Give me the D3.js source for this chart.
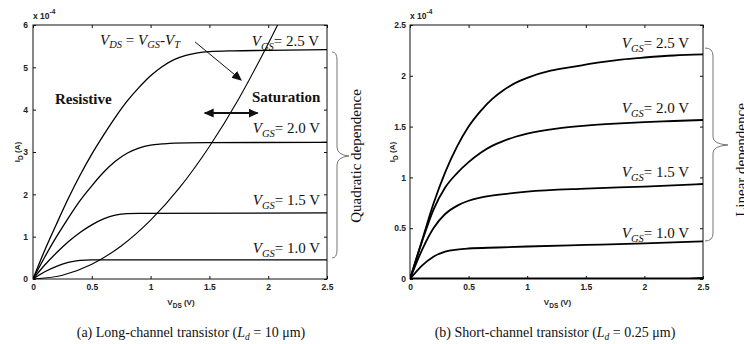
<!DOCTYPE html>
<html>
<head>
<meta charset="utf-8">
<script src="https://cdn.jsdelivr.net/npm/d3@7"></script>
<style>
  body { margin: 0; background: #fff; }
  svg { display: block; }
</style>
</head>
<body>
<svg id="chart" width="744" height="344"></svg>
<script>
// I_D values in units of 1e-4 A, V_DS in volts
const xTicks = [0, 0.5, 1, 1.5, 2, 2.5];
const xTickLabels = ["0", "0.5", "1", "1.5", "2", "2.5"];
const longYTicks = [0, 1, 2, 3, 4, 5, 6];
const shortYTicks = [0, 0.5, 1, 1.5, 2, 2.5];
const shortYTickLabels = ["0", "0.5", "1", "1.5", "2", "2.5"];
const vgsValues = ["2.5", "2.0", "1.5", "1.0"];

// (a) long-channel
const longVgs25 = [[0,0],[0.1,0.68],[0.2,1.3],[0.3,1.9],[0.4,2.45],[0.5,2.95],[0.6,3.4],[0.7,3.82],[0.8,4.2],[0.9,4.52],[1.0,4.8],[1.1,5.02],[1.2,5.18],[1.3,5.28],[1.4,5.34],[1.5,5.37],[1.7,5.39],[2.0,5.4],[2.5,5.42]];
const longVgs20 = [[0,0],[0.1,0.52],[0.2,1.0],[0.3,1.44],[0.4,1.85],[0.5,2.2],[0.6,2.52],[0.7,2.78],[0.8,2.97],[0.9,3.09],[1.0,3.16],[1.1,3.19],[1.2,3.21],[1.5,3.22],[2.5,3.23]];
const longVgs15 = [[0,0],[0.1,0.33],[0.2,0.62],[0.3,0.88],[0.4,1.1],[0.5,1.28],[0.6,1.42],[0.7,1.51],[0.8,1.545],[0.9,1.55],[2.5,1.56]];
const longVgs10 = [[0,0],[0.1,0.17],[0.2,0.3],[0.3,0.39],[0.4,0.44],[0.5,0.45],[2.5,0.45]];
const longSatBoundary = [[0,0],[0.25,0.09],[0.5,0.35],[0.75,0.78],[1.0,1.39],[1.25,2.17],[1.5,3.13],[1.75,4.26],[2.0,5.56],[2.08,6.0]];

// (b) short-channel
const shortVgs25 = [[0,0],[0.1,0.37],[0.2,0.74],[0.3,1.05],[0.4,1.3],[0.5,1.5],[0.6,1.65],[0.7,1.77],[0.8,1.86],[0.9,1.93],[1.0,1.98],[1.2,2.05],[1.4,2.09],[1.6,2.13],[1.8,2.16],[2.0,2.18],[2.25,2.2],[2.5,2.21]];
const shortVgs20 = [[0,0],[0.1,0.36],[0.2,0.68],[0.3,0.9],[0.4,1.04],[0.5,1.15],[0.6,1.24],[0.7,1.31],[0.8,1.36],[0.9,1.4],[1.0,1.43],[1.25,1.48],[1.5,1.51],[1.75,1.53],[2.0,1.545],[2.25,1.555],[2.5,1.565]];
const shortVgs15 = [[0,0],[0.1,0.28],[0.2,0.5],[0.3,0.64],[0.4,0.72],[0.5,0.77],[0.6,0.8],[0.8,0.835],[1.0,0.86],[1.5,0.89],[2.0,0.91],[2.5,0.935]];
const shortVgs10 = [[0,0],[0.1,0.13],[0.2,0.22],[0.3,0.27],[0.4,0.29],[0.5,0.3],[0.75,0.31],[1.0,0.32],[1.5,0.335],[2.0,0.35],[2.5,0.37]];
const shortVgs05 = [[0,0],[2.3,0],[2.5,0.006]];

const SERIF = "'Liberation Serif', 'Times New Roman', serif";
const SANS = "'Liberation Sans', Arial, sans-serif";
const INK = "#111";

const svg = d3.select("#chart");

const defs = svg.append("defs");
defs.append("marker")
  .attr("id", "head")
  .attr("viewBox", "0 0 10 10")
  .attr("refX", 9).attr("refY", 5)
  .attr("markerWidth", 10).attr("markerHeight", 10)
  .attr("markerUnits", "userSpaceOnUse")
  .attr("orient", "auto-start-reverse")
  .append("path").attr("d", "M0,0.5 L10,5 L0,9.5 Z").attr("fill", INK);

function drawPanel(cfg) {
  const x = d3.scaleLinear().domain([0, 2.5]).range([cfg.left, cfg.right]);
  const y = d3.scaleLinear().domain([0, cfg.ymax]).range([cfg.bottom, cfg.top]);
  const g = svg.append("g");

  g.append("clipPath").attr("id", cfg.id + "-clip")
    .append("rect")
    .attr("x", cfg.left).attr("y", cfg.top)
    .attr("width", cfg.right - cfg.left).attr("height", cfg.bottom - cfg.top);

  // axes, ticks pointing inward on all four sides
  const styleAxis = (sel) => {
    sel.select(".domain").remove();
    sel.selectAll(".tick line").attr("stroke", INK);
    sel.selectAll(".tick text")
      .attr("font-family", SANS).attr("font-size", 8.5).attr("font-weight", "bold").attr("fill", "#222");
  };

  g.append("g").attr("transform", `translate(0,${cfg.bottom})`)
    .call(d3.axisBottom(x).tickValues(xTicks).tickFormat((d, i) => xTickLabels[i])
      .tickSizeInner(-3).tickSizeOuter(0).tickPadding(5))
    .call(styleAxis);
  g.append("g").attr("transform", `translate(0,${cfg.top})`)
    .call(d3.axisTop(x).tickValues(xTicks).tickFormat("").tickSizeInner(-3).tickSizeOuter(0))
    .call(styleAxis);
  g.append("g").attr("transform", `translate(${cfg.left},0)`)
    .call(d3.axisLeft(y).tickValues(cfg.yTicks).tickFormat((d, i) => cfg.yTickLabels[i])
      .tickSizeInner(-3).tickSizeOuter(0).tickPadding(cfg.yPad))
    .call(styleAxis);
  g.append("g").attr("transform", `translate(${cfg.right},0)`)
    .call(d3.axisRight(y).tickValues(cfg.yTicks).tickFormat("").tickSizeInner(-3).tickSizeOuter(0))
    .call(styleAxis);

  g.append("rect")
    .attr("x", cfg.left).attr("y", cfg.top)
    .attr("width", cfg.right - cfg.left).attr("height", cfg.bottom - cfg.top)
    .attr("fill", "none").attr("stroke", INK).attr("stroke-width", 1);

  // curves
  const line = d3.line().x(d => x(d[0])).y(d => y(d[1])).curve(d3.curveMonotoneX);
  g.append("g").attr("clip-path", `url(#${cfg.id}-clip)`)
    .selectAll("path")
    .data(cfg.series)
    .enter()
    .append("path")
    .attr("d", d => line(d.values))
    .attr("fill", "none")
    .attr("stroke", "#000")
    .attr("stroke-width", d => d.width || cfg.strokeWidth);

  // exponent
  const exp = g.append("text")
    .attr("x", cfg.left).attr("y", cfg.top - 6)
    .attr("font-family", SANS).attr("font-size", 8.5).attr("font-weight", "bold").attr("fill", "#222");
  exp.append("tspan").text("x 10");
  exp.append("tspan").attr("dy", -5).attr("font-size", 6.5).text("-4");

  // axis titles
  const xt = g.append("text")
    .attr("x", (cfg.left + cfg.right) / 2 + 1).attr("y", 305)
    .attr("text-anchor", "middle")
    .attr("font-family", SANS).attr("font-size", 8).attr("font-weight", "bold").attr("fill", "#222");
  xt.append("tspan").text("V");
  xt.append("tspan").attr("dy", 2.5).attr("font-size", 6.5).text("DS");
  xt.append("tspan").attr("dy", -2.5).text(" (V)");

  const yt = g.append("text")
    .attr("transform", `translate(${cfg.yTitleX},${(cfg.top + cfg.bottom) / 2}) rotate(-90)`)
    .attr("text-anchor", "middle")
    .attr("font-family", SANS).attr("font-size", 8).attr("font-weight", "bold").attr("fill", "#222");
  yt.append("tspan").text("I");
  yt.append("tspan").attr("dy", 2.5).attr("font-size", 6.5).text("D");
  yt.append("tspan").attr("dy", -2.5).text(" (A)");

  // V_GS labels
  cfg.labels.forEach((lab) => {
    const t = g.append("text")
      .attr("x", lab.x).attr("y", lab.y)
      .attr("text-anchor", "end")
      .attr("font-family", SERIF).attr("font-size", 15).attr("fill", INK);
    t.append("tspan").attr("font-style", "italic").text("V");
    t.append("tspan").attr("font-style", "italic").attr("font-size", 10.5).attr("dy", 4).text("GS");
    t.append("tspan").attr("dy", -4).text("= " + lab.text + " V");
  });

  // caption
  const cap = g.append("text")
    .attr("x", cfg.captionX).attr("y", 337)
    .attr("text-anchor", "middle")
    .attr("font-family", SERIF).attr("font-size", 14).attr("fill", INK);
  cap.append("tspan").text(cfg.captionA);
  cap.append("tspan").attr("font-style", "italic").text("L");
  cap.append("tspan").attr("font-style", "italic").attr("font-size", 9.5).attr("dy", 3).text("d");
  cap.append("tspan").attr("dy", -3).text(cfg.captionB);

  // brace + rotated note
  g.append("path").attr("d", cfg.brace)
    .attr("fill", "none").attr("stroke", "#777").attr("stroke-width", 1);
  g.append("text")
    .attr("transform", `translate(${cfg.noteX},${cfg.noteY}) rotate(-90)`)
    .attr("text-anchor", "middle")
    .attr("font-family", SERIF).attr("font-size", 15).attr("fill", INK)
    .text(cfg.note);

  return { g, x, y };
}

const left = drawPanel({
  id: "long",
  left: 33, right: 327, top: 25, bottom: 279,
  ymax: 6, yTicks: longYTicks, yTickLabels: longYTicks.map(String), yPad: 5,
  yTitleX: 20,
  strokeWidth: 1.3,
  series: [
    { values: longVgs25 }, { values: longVgs20 }, { values: longVgs15 }, { values: longVgs10 },
    { values: longSatBoundary, width: 1.1 }
  ],
  labels: [
    { text: vgsValues[0], x: 319, y: 46 },
    { text: vgsValues[1], x: 320, y: 133 },
    { text: vgsValues[2], x: 320, y: 205 },
    { text: vgsValues[3], x: 320, y: 253 }
  ],
  captionX: 191, captionA: "(a) Long-channel transistor (", captionB: " = 10 \u03bcm)",
  brace: "M332,52 Q337,52 337,60 L337,147 Q337,155 349,156 Q337,157 337,165 L337,250 Q337,258 332,258",
  noteX: 361, noteY: 156, note: "Quadratic dependence"
});

const right = drawPanel({
  id: "short",
  left: 410, right: 703, top: 25, bottom: 279,
  ymax: 2.5, yTicks: shortYTicks, yTickLabels: shortYTickLabels, yPad: 4,
  yTitleX: 395,
  strokeWidth: 1.8,
  series: [
    { values: shortVgs25 }, { values: shortVgs20 }, { values: shortVgs15 }, { values: shortVgs10 },
    { values: shortVgs05, width: 3 }
  ],
  labels: [
    { text: vgsValues[0], x: 689, y: 48 },
    { text: vgsValues[1], x: 689, y: 113 },
    { text: vgsValues[2], x: 689, y: 177 },
    { text: vgsValues[3], x: 689, y: 238 }
  ],
  captionX: 555, captionA: "(b) Short-channel transistor (", captionB: " = 0.25 \u03bcm)",
  brace: "M705,48 Q713,48 713,56 L713,137 Q713,144 728,145 Q713,146 713,153 L713,233 Q713,241 705,241",
  noteX: 746, noteY: 160, note: "Linear dependence"
});

// annotations on the long-channel panel
{
  const { g, x, y } = left;
  const t = g.append("text")
    .attr("x", 100).attr("y", 45)
    .attr("font-family", SERIF).attr("font-size", 15).attr("font-style", "italic").attr("fill", INK);
  t.append("tspan").text("V");
  t.append("tspan").attr("font-size", 10.5).attr("dy", 3).text("DS");
  t.append("tspan").attr("dy", -3).attr("font-style", "normal").text(" = ");
  t.append("tspan").text("V");
  t.append("tspan").attr("font-size", 10.5).attr("dy", 3).text("GS");
  t.append("tspan").attr("dy", -3).attr("font-style", "normal").text("-");
  t.append("tspan").text("V");
  t.append("tspan").attr("font-size", 10.5).attr("dy", 3).text("T");

  g.append("text").attr("x", 55).attr("y", 104)
    .attr("font-family", SERIF).attr("font-size", 15).attr("font-weight", "bold").attr("fill", INK)
    .text("Resistive");
  g.append("text").attr("x", 252).attr("y", 102)
    .attr("font-family", SERIF).attr("font-size", 15).attr("font-weight", "bold").attr("fill", INK)
    .text("Saturation");

  g.append("line")
    .attr("x1", x(1.378)).attr("y1", y(5.6)).attr("x2", x(1.77)).attr("y2", y(4.7))
    .attr("stroke", INK).attr("stroke-width", 1)
    .attr("marker-end", "url(#head)");
  g.append("line")
    .attr("x1", x(1.46)).attr("y1", y(3.92)).attr("x2", x(1.91)).attr("y2", y(3.92))
    .attr("stroke", INK).attr("stroke-width", 2)
    .attr("marker-start", "url(#head)").attr("marker-end", "url(#head)");
}
</script>
</body>
</html>
